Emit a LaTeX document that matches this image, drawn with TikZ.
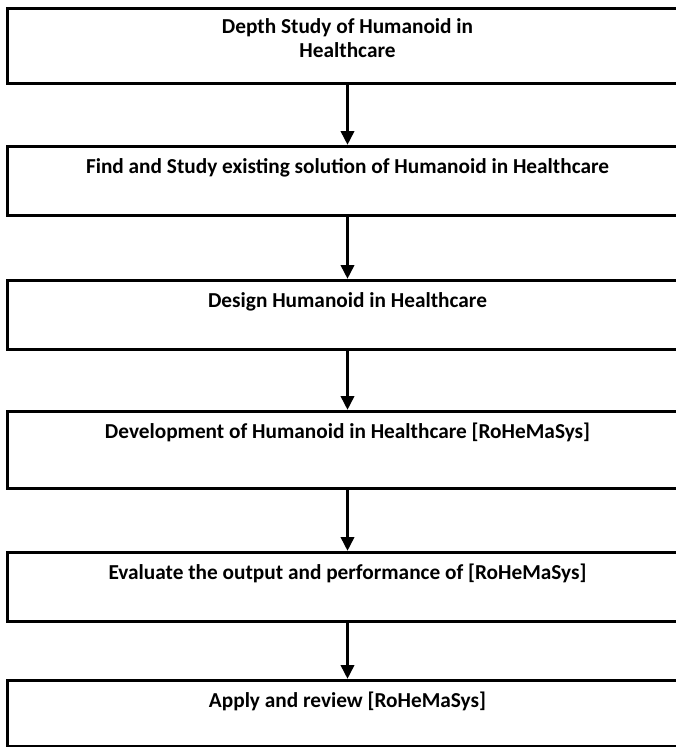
\documentclass[tikz,border=0pt]{standalone}
\usepackage{fontspec}
\setmainfont{Carlito}
\usetikzlibrary{positioning,arrows.meta}

\tikzset{
  stagebox/.style={draw, line width=3pt, minimum width=680pt, inner sep=0pt, anchor=north west},
  stagetext/.style={anchor=base, align=center, inner sep=0pt,
    font=\bfseries\fontsize{21.3}{24}\selectfont},
  flow/.style={line width=3.5pt, -{Triangle[length=14pt, width=13pt]}}
}

\begin{document}
\begin{tikzpicture}[x=1pt, y=-1pt]
  \useasboundingbox (0,0) rectangle (676,747);
  \clip (0,0) rectangle (676,747);

  % the six stages, top to bottom
  \node[stagebox, minimum height=75pt] (b1) at (6,7) {};
  \node[stagebox, minimum height=69pt] (b2) at (6,145) {};
  \node[stagebox, minimum height=69pt] (b3) at (6,279) {};
  \node[stagebox, minimum height=77pt] (b4) at (6,410) {};
  \node[stagebox, minimum height=69pt] (b5) at (6,551) {};
  \node[stagebox, minimum height=66pt] (b6) at (6,679) {};

  % stage titles, set on their (last) baselines
  \node[stagetext] (t1) at ([yshift=-50pt]b1.north) {Depth Study of Humanoid in\\Healthcare};
  \node[stagetext] (t2) at ([yshift=-28pt]b2.north) {Find and Study existing solution of Humanoid in Healthcare};
  \node[stagetext] (t3) at ([yshift=-28pt]b3.north) {Design Humanoid in Healthcare};
  \node[stagetext] (t4) at ([yshift=-28pt]b4.north) {Development of Humanoid in Healthcare [RoHeMaSys]};
  \node[stagetext] (t5) at ([yshift=-28pt]b5.north) {Evaluate the output and performance of [RoHeMaSys]};
  \node[stagetext] (t6) at ([yshift=-28pt]b6.north) {Apply and review [RoHeMaSys]};

  % arrows between stages
  \draw[flow] (b1.south) -- (b2.north);
  \draw[flow] (b2.south) -- (b3.north);
  \draw[flow] (b3.south) -- (b4.north);
  \draw[flow] (b4.south) -- (b5.north);
  \draw[flow] (b5.south) -- (b6.north);
\end{tikzpicture}
\end{document}
